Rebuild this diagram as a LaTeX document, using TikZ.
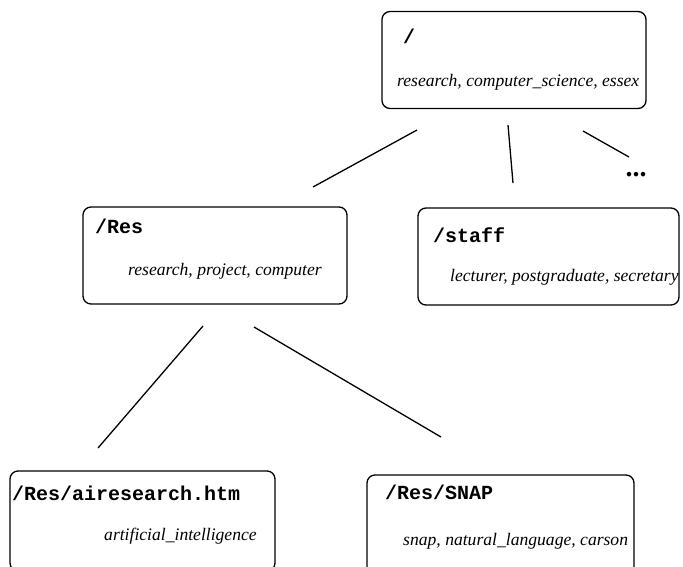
\documentclass[tikz,border=0pt]{standalone}
\usepackage{fontspec}
\setmainfont{Liberation Serif}
\setmonofont{Liberation Mono}
\usepackage{tikz}
\usetikzlibrary{positioning}

\begin{document}
\begin{tikzpicture}[x=1pt,y=-1pt,
      dirbox/.style={draw,rounded corners=8pt,line width=1.3pt,minimum width=264pt,minimum height=97pt,inner sep=0pt},
      path/.style={anchor=base west,inner sep=0pt,font=\fontsize{20}{22}\selectfont\ttfamily\bfseries},
      keys/.style={anchor=base west,inner sep=0pt,font=\fontsize{17.6}{21}\selectfont\itshape},
      link/.style={line width=1.3pt}]
    \clip (0,0) rectangle (683,566);
    \useasboundingbox (0,0) rectangle (683,566);
    % directory boxes
    \node[dirbox] (root)  at (514,60)    {};
    \node[dirbox] (res)   at (215,255.5) {};
    \node[dirbox,minimum width=261pt] (staff) at (548.5,256.5) {};
    \node[dirbox,minimum width=265pt,minimum height=100pt] (air)  at (142.5,521) {};
    \node[dirbox,minimum width=267pt,minimum height=100pt] (snap)  at (500.5,525) {};
    % paths and keywords
    \node[path] (rootp)  at (403,43)  {/};
    \node[keys] (rootk)  at (397,86)  {research, computer\_science, essex};
    \node[path] (resp)   at (95,233)  {/Res};
    \node[keys] (resk)   at (128,275) {research, project, computer};
    \node[path] (staffp) at (433,242) {/staff};
    \node[keys] (staffk) at (450,281) {lecturer, postgraduate, secretary};
    \node[path] (airp)   at (12,500)  {/Res/airesearch.htm};
    \node[keys] (airk)   at (104,540) {artificial\_intelligence};
    \node[path] (snapp)  at (385,499) {/Res/SNAP};
    \node[keys] (snapk)  at (403,545) {snap, natural\_language, carson};
    \node[font=\fontsize{28}{28}\selectfont\bfseries,inner sep=0pt] (more) at (636,175) {...};
    % line ends
    \coordinate (r1) at (417,130); \coordinate (r2) at (508,125); \coordinate (r3) at (583,131);
    \coordinate (s1) at (203,326); \coordinate (s2) at (254,327);
    \coordinate (t1) at (313,187); \coordinate (t2) at (513,183); \coordinate (t3) at (629,157);
    \coordinate (u1) at (98,448);  \coordinate (u2) at (441,437);
    \draw[link] (r1) -- (t1);
    \draw[link] (r2) -- (t2);
    \draw[link] (r3) -- (t3);
    \draw[link] (s1) -- (u1);
    \draw[link] (s2) -- (u2);
  \end{tikzpicture}
\end{document}
